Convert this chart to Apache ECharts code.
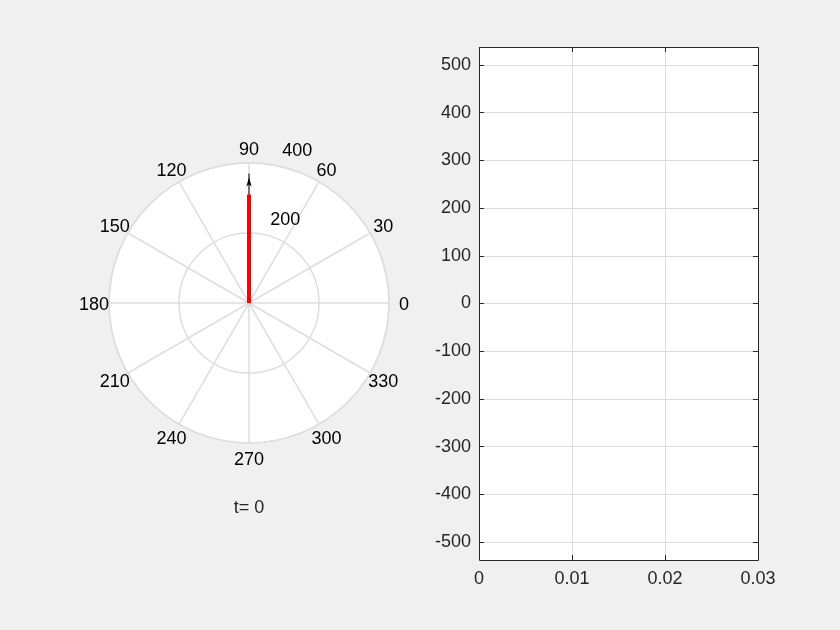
<!DOCTYPE html>
<html>
<head>
<meta charset="utf-8">
<script src="https://cdn.jsdelivr.net/npm/echarts@6/dist/echarts.min.js"></script>
<style>
html,body{margin:0;padding:0;background:#f0f0f0;}
#c{width:840px;height:630px;}
</style>
</head>
<body>
<div id="c"></div>
<script>
// ---- data ----
const vectorAngle = 90;          // degrees
const arrowLength = 370;         // black compass arrow
const redLength = 310;           // red thick segment
const rTicks = [200, 400];
const rLabelAngle = 80;
const thetaTicks = [0, 30, 60, 90, 120, 150, 180, 210, 240, 270, 300, 330];
const thetaMax = 360;
const thetaLabelRadius = 443;
const timeLabel = 't= 0';
const xTicks = [0, 0.01, 0.02, 0.03];
const yTicks = [-500, -400, -300, -200, -100, 0, 100, 200, 300, 400, 500];
const yLimit = 537.5;

const FONT = 'Liberation Sans, Arial, sans-serif';
const chart = echarts.init(document.getElementById('c'), null, {renderer: 'canvas'});
const cx = 249, cy = 303, R = 140;
const gL = 479, gT = 47, gW = 279, gH = 513;
const gridColor = '#dedede';
const tickStyle = {color: '#262626', width: 1};

chart.setOption({
  backgroundColor: '#f0f0f0',
  animation: false,
  graphic: [
    {type: 'circle', shape: {cx: cx, cy: cy, r: R}, style: {fill: '#ffffff'}, z: -10, silent: true},
    {type: 'rect', shape: {x: gL + 0.5, y: gT + 0.5, width: gW, height: gH},
      style: {fill: null, stroke: '#262626', lineWidth: 1}, z: 10, silent: true},
    {type: 'text', x: cx, y: 508, style: {text: timeLabel, fill: '#262626', font: '18px ' + FONT, textAlign: 'center', textVerticalAlign: 'middle'}}
  ],
  polar: {center: [cx, cy], radius: R},
  angleAxis: {
    type: 'value', min: 0, max: thetaMax, interval: 30, startAngle: 0, clockwise: false,
    axisLine: {show: true, lineStyle: {color: gridColor, width: 1.5}},
    axisTick: {show: false},
    axisLabel: {show: false},
    splitLine: {show: true, lineStyle: {color: gridColor, width: 1.5}}
  },
  radiusAxis: {
    type: 'value', min: 0, max: rTicks[rTicks.length - 1], interval: rTicks[0],
    axisLine: {show: false}, axisTick: {show: false}, axisLabel: {show: false},
    splitLine: {show: true, lineStyle: {color: gridColor, width: 1.5}}
  },
  grid: {left: gL, top: gT, width: gW, height: gH, show: true, backgroundColor: '#ffffff',
    borderWidth: 0, containLabel: false},
  xAxis: [{
    type: 'value', min: xTicks[0], max: xTicks[xTicks.length - 1], interval: 0.01,
    position: 'bottom',
    axisLine: {show: false, onZero: false},
    axisTick: {show: true, inside: true, length: 5, lineStyle: tickStyle},
    axisLabel: {color: '#262626', fontSize: 18, fontFamily: FONT, margin: 10,
      formatter: v => String(v)},
    splitLine: {show: true, lineStyle: {color: '#dcdcdc', width: 1}}
  }, {
    type: 'value', min: xTicks[0], max: xTicks[xTicks.length - 1], interval: 0.01,
    position: 'top',
    axisLine: {show: false, onZero: false},
    axisTick: {show: true, inside: true, length: 5, lineStyle: tickStyle},
    axisLabel: {show: false}, splitLine: {show: false}
  }],
  yAxis: [{
    type: 'value', min: -yLimit, max: yLimit, position: 'left',
    axisLine: {show: false, onZero: false},
    axisTick: {show: true, inside: true, length: 5, customValues: yTicks, lineStyle: tickStyle},
    axisLabel: {color: '#262626', fontSize: 18, fontFamily: FONT, margin: 8, customValues: yTicks},
    splitLine: {show: true, lineStyle: {color: '#dcdcdc', width: 1}}
  }, {
    type: 'value', min: -yLimit, max: yLimit, position: 'right',
    axisLine: {show: false, onZero: false},
    axisTick: {show: true, inside: true, length: 5, customValues: yTicks, lineStyle: tickStyle},
    axisLabel: {show: false, customValues: yTicks}, splitLine: {show: false}
  }],
  series: [
    {
      type: 'line', coordinateSystem: 'polar', silent: true, z: 3,
      data: [
        {value: [0, vectorAngle], symbol: 'none'},
        {value: [arrowLength, vectorAngle], symbol: 'arrow', symbolSize: [4, 9], symbolOffset: [0, 4]}
      ],
      lineStyle: {color: '#000', width: 1},
      itemStyle: {color: '#000'}
    },
    {
      type: 'line', coordinateSystem: 'polar', silent: true, z: 4, symbol: 'none',
      data: [[0, vectorAngle], [redLength, vectorAngle]],
      lineStyle: {color: '#ff0000', width: 4, cap: 'butt'}
    },
    {
      type: 'scatter', coordinateSystem: 'polar', silent: true, symbolSize: 0, z: 5, clip: false,
      itemStyle: {opacity: 1},
      data: rTicks.map(r => [r, rLabelAngle]),
      label: {show: true, position: 'inside', offset: [24, -14], color: '#000', fontSize: 18, fontFamily: FONT,
        formatter: p => String(p.value[0])}
    },
    {
      type: 'scatter', coordinateSystem: 'polar', silent: true, symbolSize: 0, z: 5, clip: false,
      itemStyle: {opacity: 1},
      data: thetaTicks.map(t => [thetaLabelRadius, t]),
      label: {show: true, position: 'inside', offset: [0, 2], color: '#000', fontSize: 18, fontFamily: FONT,
        formatter: p => String(p.value[1])}
    },
    {
      type: 'line', xAxisIndex: 0, yAxisIndex: 0, data: [], symbol: 'none'
    }
  ]
});
</script>
</body>
</html>
